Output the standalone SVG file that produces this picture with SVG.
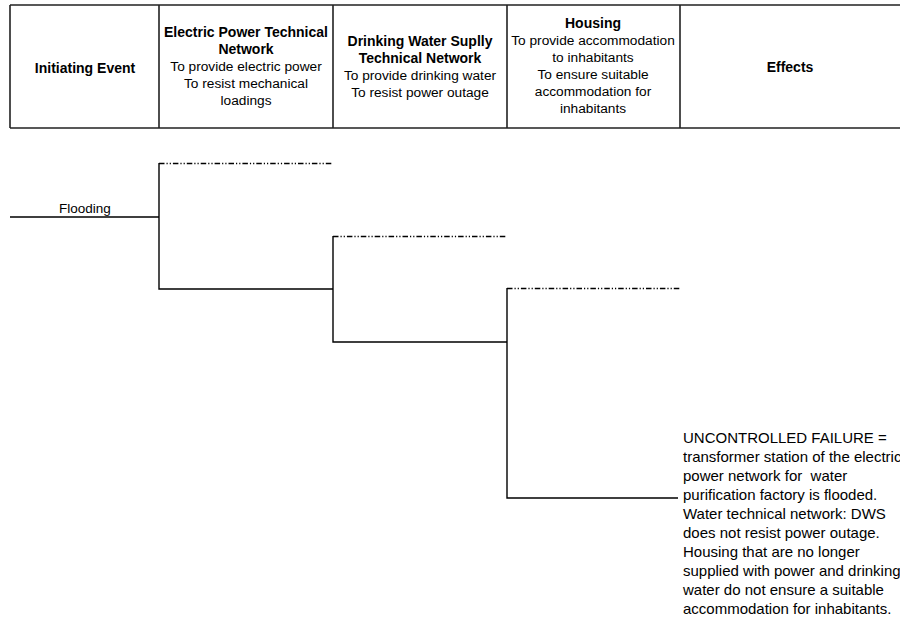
<svg xmlns="http://www.w3.org/2000/svg" width="900" height="620" viewBox="0 0 900 620">
<style>
text{font-family:"Liberation Sans",Arial,sans-serif;fill:#000}
.h{font-size:13.7px;text-anchor:middle}
.b{font-weight:bold;font-size:14px}
.grid{stroke:#222;stroke-width:1.6;fill:none}
.ln{stroke:#000;stroke-width:1.4;fill:none}
.dd{stroke:#000;stroke-width:1.6;fill:none;stroke-dasharray:5.5 2 1.2 2 1.2 2}
.eff{font-size:15px}
</style>
<rect width="900" height="620" fill="#fff"/>
<g id="header">
<path class="grid" d="M10,5H900M10,128H900M10,5V128M159,5V128M333,5V128M507,5V128M680,5V128"/>
<g id="col-initiating"><text class="h b" x="85" y="73">Initiating Event</text></g>
<g id="col-electric">
<text class="h b" x="246" y="37">Electric Power Technical</text>
<text class="h b" x="246" y="54">Network</text>
<text class="h" x="246" y="71">To provide electric power</text>
<text class="h" x="246" y="88">To resist mechanical</text>
<text class="h" x="246" y="105">loadings</text>
</g>
<g id="col-water">
<text class="h b" x="420" y="46">Drinking Water Suplly</text>
<text class="h b" x="420" y="63">Technical Network</text>
<text class="h" x="420" y="80">To provide drinking water</text>
<text class="h" x="420" y="97">To resist power outage</text>
</g>
<g id="col-housing">
<text class="h b" x="593" y="28">Housing</text>
<text class="h" x="593" y="45">To provide accommodation</text>
<text class="h" x="593" y="62">to inhabitants</text>
<text class="h" x="593" y="79">To ensure suitable</text>
<text class="h" x="593" y="96">accommodation for</text>
<text class="h" x="593" y="113">inhabitants</text>
</g>
<g id="col-effects"><text class="h b" x="790" y="72">Effects</text></g>
</g>
<g id="connectors">
<path class="ln" d="M10,217H159M159,163V289H333M333,236V342H507M507,288V498H678"/>
<path class="dd" d="M159,163.5H333M333,236.5H507M507,288.5H680"/>
</g>
<g id="flooding"><text x="85" y="213" font-size="13.5" text-anchor="middle">Flooding</text></g>
<g id="effect">
<text class="eff" x="683" xml:space="preserve"><tspan x="683" y="443">UNCONTROLLED FAILURE =</tspan><tspan x="683" y="462">transformer station of the electric</tspan><tspan x="683" y="481">power network for  water</tspan><tspan x="683" y="500">purification factory is flooded.</tspan><tspan x="683" y="519">Water technical network: DWS</tspan><tspan x="683" y="538">does not resist power outage.</tspan><tspan x="683" y="557">Housing that are no longer</tspan><tspan x="683" y="576">supplied with power and drinking</tspan><tspan x="683" y="595">water do not ensure a suitable</tspan><tspan x="683" y="614">accommodation for inhabitants.</tspan></text>
</g>
</svg>
